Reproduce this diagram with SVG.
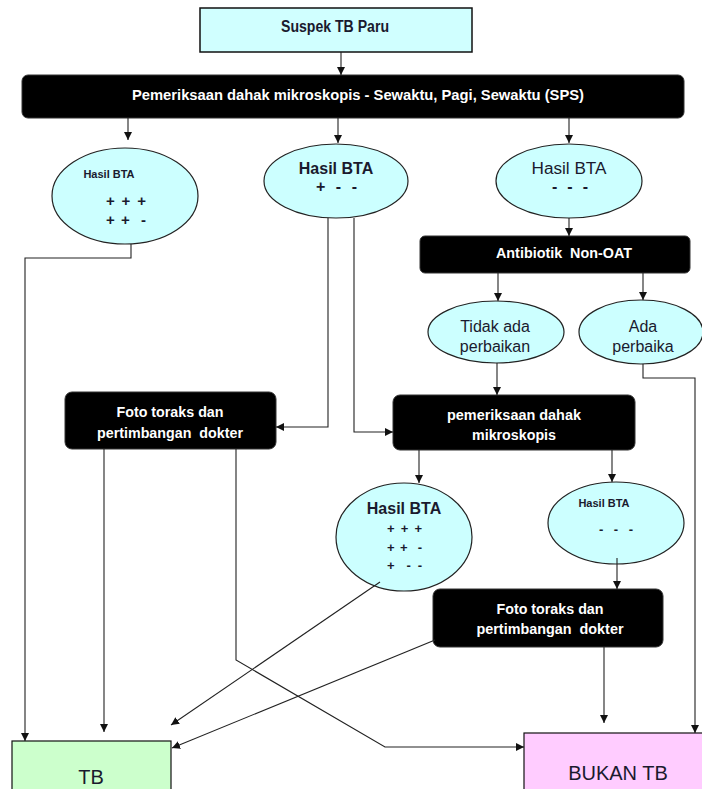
<svg xmlns="http://www.w3.org/2000/svg" width="702" height="789" viewBox="0 0 702 789">
<defs>
<marker id="ah" viewBox="0 0 8 8" refX="8" refY="4" markerWidth="8" markerHeight="8" markerUnits="userSpaceOnUse" orient="auto">
<path d="M0,0 L8,4 L0,8 z" fill="#111"/>
</marker>
<style>
.blk{fill:#000;stroke:#333;stroke-width:1}
.ell{fill:#ccffff;stroke:#222;stroke-width:1.2}
.wt{font-family:"Liberation Sans Narrow","Arial Narrow","Liberation Sans",sans-serif;font-weight:bold;fill:#fff;font-size:14px;text-anchor:middle;white-space:pre}
.dt{font-family:"Liberation Sans",Arial,sans-serif;fill:#1a1a2e;text-anchor:middle;white-space:pre}
.s{text-anchor:start}
.b{font-weight:bold}
.c line,.c path{stroke:#222;stroke-width:1.1;fill:none;marker-end:url(#ah)}
</style>
</defs>
<rect width="702" height="789" fill="#fff"/>

<g id="suspek">
<rect x="200" y="8" width="272" height="44" fill="#d0ffff" stroke="#111" stroke-width="1.5"/>
<text class="dt b" x="335" y="32" font-size="16" textLength="108" lengthAdjust="spacingAndGlyphs" style="font-family:'Liberation Sans Narrow','Liberation Sans',sans-serif">Suspek TB Paru</text>
</g>

<g id="sps">
<rect class="blk" x="22" y="75" width="662" height="43" rx="6"/>
<text class="wt" x="358" y="100" textLength="452" lengthAdjust="spacingAndGlyphs">Pemeriksaan dahak mikroskopis - Sewaktu, Pagi, Sewaktu (SPS)</text>
</g>

<g id="bta1">
<ellipse class="ell" cx="125" cy="196" rx="73" ry="48"/>
<text class="dt b" x="109" y="178" font-size="11">Hasil BTA</text>
<text class="dt b s" x="106" y="206" font-size="15" textLength="40" lengthAdjust="spacing">+ + +</text>
<text class="dt b s" x="106" y="225" font-size="15" textLength="40" lengthAdjust="spacing">+ +  -</text>
</g>

<g id="bta2">
<ellipse class="ell" cx="336" cy="181" rx="72" ry="37"/>
<text class="dt b" x="336" y="174" font-size="16">Hasil BTA</text>
<text class="dt b s" x="316" y="192" font-size="16" textLength="41" lengthAdjust="spacing">+ - -</text>
</g>

<g id="bta3">
<ellipse class="ell" cx="569" cy="181" rx="73" ry="37"/>
<text class="dt" x="569" y="174" font-size="16" textLength="75" lengthAdjust="spacingAndGlyphs">Hasil BTA</text>
<text class="dt b s" x="552" y="192" font-size="16" textLength="36" lengthAdjust="spacing">- - -</text>
</g>

<g id="antibiotik">
<rect class="blk" x="420" y="236" width="270" height="37" rx="5"/>
<text class="wt" x="564" y="258" textLength="136" lengthAdjust="spacingAndGlyphs">Antibiotik  Non-OAT</text>
</g>

<g id="tidak">
<ellipse class="ell" cx="496" cy="332" rx="68" ry="31"/>
<text class="dt" x="495" y="332" font-size="16">Tidak ada</text>
<text class="dt" x="495" y="352" font-size="16">perbaikan</text>
</g>

<g id="ada">
<ellipse class="ell" cx="641" cy="332" rx="62" ry="32"/>
<text class="dt" x="643" y="332" font-size="16">Ada</text>
<text class="dt" x="643" y="352" font-size="16">perbaika</text>
</g>

<g id="foto1">
<rect class="blk" x="65" y="392" width="211" height="57" rx="7"/>
<text class="wt" x="170" y="417" textLength="107" lengthAdjust="spacingAndGlyphs">Foto toraks dan</text>
<text class="wt" x="170" y="438" textLength="146" lengthAdjust="spacingAndGlyphs">pertimbangan  dokter</text>
</g>

<g id="pemeriksaan">
<rect class="blk" x="393" y="395" width="242" height="55" rx="7"/>
<text class="wt" x="514" y="420" textLength="134" lengthAdjust="spacingAndGlyphs">pemeriksaan dahak</text>
<text class="wt" x="514" y="440" textLength="84" lengthAdjust="spacingAndGlyphs">mikroskopis</text>
</g>

<g id="bta4">
<ellipse class="ell" cx="404" cy="537" rx="68" ry="54"/>
<text class="dt b" x="404" y="514" font-size="16">Hasil BTA</text>
<text class="dt b s" x="387" y="533" font-size="13" textLength="35" lengthAdjust="spacing">+ + +</text>
<text class="dt b s" x="387" y="552" font-size="13" textLength="35" lengthAdjust="spacing">+ +  -</text>
<text class="dt b s" x="387" y="570" font-size="13" textLength="35" lengthAdjust="spacing">+  - -</text>
</g>

<g id="bta5">
<ellipse class="ell" cx="616" cy="523" rx="68" ry="41"/>
<text class="dt b" x="604" y="507" font-size="11">Hasil BTA</text>
<text class="dt b s" x="599" y="534" font-size="13" textLength="34" lengthAdjust="spacing">- - -</text>
</g>

<g id="foto2">
<rect class="blk" x="433" y="589" width="230" height="58" rx="7"/>
<text class="wt" x="550" y="614" textLength="107" lengthAdjust="spacingAndGlyphs">Foto toraks dan</text>
<text class="wt" x="550" y="634" textLength="147" lengthAdjust="spacingAndGlyphs">pertimbangan  dokter</text>
</g>

<g id="tb">
<rect x="12" y="741" width="159" height="60" fill="#ccffcc" stroke="#111" stroke-width="1.2"/>
<text class="dt" x="91" y="784" font-size="20">TB</text>
</g>

<g id="bukan">
<rect x="524" y="733" width="190" height="70" fill="#ffccff" stroke="#111" stroke-width="1.2"/>
<text class="dt" x="618" y="780" font-size="20">BUKAN TB</text>
</g>

<g id="connectors" class="c">
<line x1="341" y1="52" x2="341" y2="75"/>
<line x1="128" y1="118" x2="128" y2="140"/>
<line x1="338" y1="118" x2="338" y2="143"/>
<line x1="569" y1="118" x2="569" y2="143"/>
<path d="M131,244 V258 H25 V741"/>
<path d="M328,218 V427 H276"/>
<path d="M354,218 V432 H393"/>
<line x1="569" y1="218" x2="569" y2="236"/>
<line x1="498" y1="273" x2="498" y2="301"/>
<line x1="643" y1="273" x2="643" y2="300"/>
<line x1="497" y1="363" x2="497" y2="395"/>
<path d="M643,364 V378 H695 V733"/>
<line x1="419" y1="450" x2="419" y2="483"/>
<line x1="612" y1="450" x2="612" y2="482"/>
<line x1="617" y1="558" x2="617" y2="589"/>
<line x1="380" y1="582" x2="171" y2="725"/>
<line x1="435" y1="640" x2="172" y2="748"/>
<line x1="604" y1="647" x2="604" y2="723"/>
<line x1="104" y1="449" x2="104" y2="732"/>
<path d="M236,449 V660 L385,747 H524"/>
</g>
</svg>
